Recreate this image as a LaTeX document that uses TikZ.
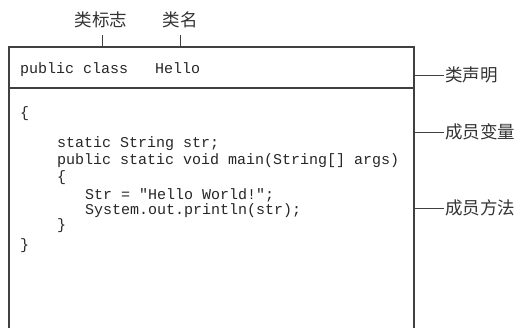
\documentclass[tikz,border=0pt]{standalone}
\usepackage{fontspec}
\setmonofont{Liberation Mono}
\newfontfamily\cjk{Noto Sans CJK SC}
\begin{document}
\begin{tikzpicture}[x=1pt,y=-1pt,
  boxline/.style={draw=black!75, line width=1.2pt},
  tick/.style={draw=black!75, line width=0.9pt},
  code/.style={anchor=base west, inner sep=0pt, font=\ttfamily\fontsize{15}{16}\selectfont, text=black!85},
  lab/.style={inner sep=1pt, font=\cjk\fontsize{17.5}{18}\selectfont, text=black!80}]
\useasboundingbox (0,0) rectangle (530,328);
% box
\draw[boxline] (9,335) -- (9,47) -- (414,47) -- (414,335);
\draw[boxline] (9,88) -- (414,88);
\coordinate (tA) at (102,47);
\coordinate (tB) at (180,47);
\coordinate (rA) at (414,75);
\coordinate (rB) at (414,132);
\coordinate (rC) at (414,208);
% labels
\node[lab] (biaozhi) at (101,20) {类标志};
\node[lab] (leiming) at (180,20) {类名};
\node[lab, anchor=west] (shengming) at (444,75) {类声明};
\node[lab, anchor=west] (bianliang) at (444,132) {成员变量};
\node[lab, anchor=west] (fangfa) at (444,208) {成员方法};
\draw[tick] (tA) -- (102,35);
\draw[tick] (tB) -- (180,35);
\draw[tick] (rA) -- (shengming.west);
\draw[tick] (rB) -- (bianliang.west);
\draw[tick] (rC) -- (fangfa.west);
% code
\node[code] (c1) at (20,74) {public class\ \ \ Hello};
\node[code] (c2) at (20,118) {\{};
\node[code] (c3) at (57,148) {static String str;};
\node[code] (c4) at (57,165) {public static void main(String[] args)};
\node[code] (c5) at (57,182) {\{};
\node[code] (c6) at (85,200) {Str = "Hello World!";};
\node[code] (c7) at (85,215) {System.out.println(str);};
\node[code] (c8) at (57,230) {\}};
\node[code] (c9) at (20,250) {\}};
\end{tikzpicture}
\end{document}
